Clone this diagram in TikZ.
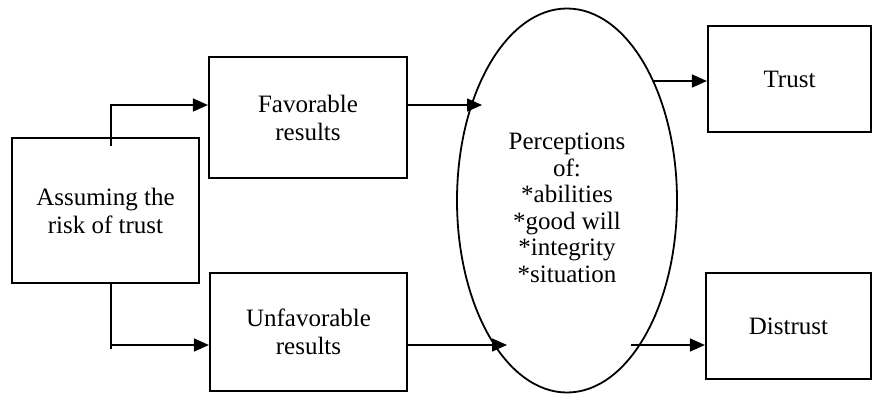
\documentclass[tikz,border=0pt]{standalone}
\usepackage{fontspec}
\setmainfont{Liberation Serif}
\usetikzlibrary{arrows.meta,shapes.geometric}
\begin{document}
\begin{tikzpicture}[x=1pt,y=-1pt,
  box/.style={draw,line width=2.2pt,rectangle,inner sep=0pt,align=center,
    font=\fontsize{25}{28}\selectfont},
  conn/.style={line width=1.5pt},
  arr/.style={line width=1.5pt,-{Triangle[length=15pt,width=13pt]}}]
\useasboundingbox (0,0) rectangle (874,394);
\node[box,minimum width=187pt,minimum height=145pt] (assume) at (105.5,210.5) {Assuming the\\risk of trust};
\node[box,minimum width=198pt,minimum height=121pt] (fav) at (308,117.5) {Favorable\\results};
\node[box,minimum width=197pt,minimum height=118pt] (unfav) at (308.5,332) {Unfavorable\\results};
\node[draw,ellipse,line width=1.8pt,minimum width=220pt,minimum height=384pt,inner sep=0pt] (ell) at (567,200.5) {};
\node[align=center,inner sep=0pt,font=\fontsize{25}{26.5}\selectfont] (elltext) at (567,208) {Perceptions\\of:\\*abilities\\ *good will\\*integrity\\*situation};
\node[box,minimum width=163pt,minimum height=106pt] (trust) at (789.5,79) {Trust};
\node[box,minimum width=165pt,minimum height=106pt] (distrust) at (788.5,326) {Distrust};
% left connectors
\coordinate (topstart) at ([xshift=5.5pt,yshift=-9pt]assume.north);
\draw[arr] (topstart) |- ([yshift=12.5pt]fav.west);
\coordinate (botstart) at ([xshift=5.5pt]assume.south);
\coordinate (botend) at (111,349);
\draw[conn] (botstart) -- (botend);
\draw[arr] (botstart |- unfav.west) ++(0,13) -- ([yshift=-13pt]unfav.west);
% into ellipse
\coordinate (favtip) at (482,105);
\coordinate (unfavtip) at (507,345);
\draw[arr] ([yshift=12.5pt]fav.east) -- (favtip);
\draw[arr] ([yshift=-13pt]unfav.east) -- (unfavtip);
% out of ellipse
\coordinate (trustsrc) at (654,81);
\coordinate (distsrc) at (631,345);
\draw[arr] (trustsrc) -- (trustsrc -| trust.west);
\draw[arr] (distsrc) -- (distsrc -| distrust.west);
\end{tikzpicture}
\end{document}
